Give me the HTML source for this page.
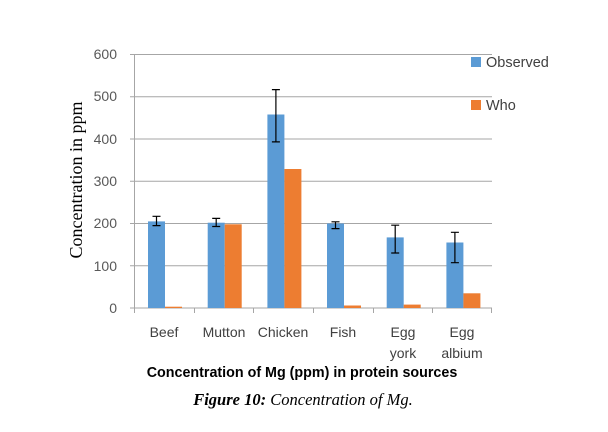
<!DOCTYPE html>
<html><head><style>body{margin:0;background:#fff}svg{display:block}</style></head>
<body>
<svg width="608" height="432" xmlns="http://www.w3.org/2000/svg">
<g stroke="#a6a6a6" stroke-width="1">
<line x1="130" y1="54.5" x2="492" y2="54.5"/>
<line x1="130" y1="96.8" x2="492" y2="96.8"/>
<line x1="130" y1="139" x2="492" y2="139"/>
<line x1="130" y1="181.3" x2="492" y2="181.3"/>
<line x1="130" y1="223.5" x2="492" y2="223.5"/>
<line x1="130" y1="265.8" x2="492" y2="265.8"/>
<line x1="130" y1="308" x2="492" y2="308"/>
<line x1="134.5" y1="54" x2="134.5" y2="308"/>
<line x1="134.5" y1="308" x2="134.5" y2="313"/>
<line x1="194.5" y1="308" x2="194.5" y2="313"/>
<line x1="253.5" y1="308" x2="253.5" y2="313"/>
<line x1="313.5" y1="308" x2="313.5" y2="313"/>
<line x1="373.5" y1="308" x2="373.5" y2="313"/>
<line x1="432.5" y1="308" x2="432.5" y2="313"/>
<line x1="491.5" y1="308" x2="491.5" y2="313"/>
</g>
<g font-family="Liberation Sans, sans-serif" font-size="14" fill="#595959" text-anchor="end">
<text x="117" y="59">600</text><text x="117" y="101">500</text><text x="117" y="144">400</text>
<text x="117" y="186">300</text><text x="117" y="228">200</text><text x="117" y="271">100</text><text x="117" y="313">0</text>
</g>
<text transform="translate(82,180) rotate(-90)" text-anchor="middle" font-family="Liberation Serif, serif" font-size="18" fill="#000">Concentration in ppm</text>
<g fill="#5b9bd5">
<rect x="148" y="221.4" width="17" height="86.6"/>
<rect x="207.7" y="222.7" width="17" height="85.3"/>
<rect x="267.4" y="114.5" width="17" height="193.5"/>
<rect x="327" y="223.5" width="17" height="84.5"/>
<rect x="386.7" y="237.4" width="17" height="70.6"/>
<rect x="446.4" y="242.5" width="17" height="65.5"/>
</g>
<g fill="#ed7d31">
<rect x="165" y="306.7" width="17" height="1.3"/>
<rect x="224.7" y="224.3" width="17" height="83.7"/>
<rect x="284.4" y="169" width="17" height="139"/>
<rect x="344" y="305.5" width="17" height="2.5"/>
<rect x="403.7" y="304.6" width="17" height="3.4"/>
<rect x="463.4" y="293.3" width="17" height="14.7"/>
</g>
<g stroke="#000" stroke-width="1.2" fill="none">
<path d="M156.5 225.6V216.3M152.5 225.6h8M152.5 216.3h8"/>
<path d="M216.2 226.5V218.4M212.2 226.5h8M212.2 218.4h8"/>
<path d="M275.9 141.9V89.6M271.9 141.9h8M271.9 89.6h8"/>
<path d="M335.5 228.6V221.8M331.5 228.6h8M331.5 221.8h8"/>
<path d="M395.2 253V225.2M391.2 253h8M391.2 225.2h8"/>
<path d="M454.9 262.7V232.3M450.9 262.7h8M450.9 232.3h8"/>
</g>
<g font-family="Liberation Sans, sans-serif" font-size="14" fill="#404040" text-anchor="middle">
<text x="164" y="337">Beef</text><text x="224" y="337">Mutton</text><text x="283" y="337">Chicken</text>
<text x="343" y="337">Fish</text><text x="403" y="337">Egg</text><text x="462" y="337">Egg</text>
<text x="403" y="358">york</text><text x="462" y="358">albium</text>
</g>
<rect x="471" y="57" width="10" height="10" fill="#5b9bd5"/>
<text x="486" y="67" font-family="Liberation Sans, sans-serif" font-size="14.5" fill="#404040">Observed</text>
<rect x="471" y="100" width="10" height="10" fill="#ed7d31"/>
<text x="486" y="110" font-family="Liberation Sans, sans-serif" font-size="14.5" fill="#404040">Who</text>
<text x="302" y="377" text-anchor="middle" font-family="Liberation Sans, sans-serif" font-weight="bold" font-size="14.3" fill="#000">Concentration of Mg (ppm) in protein sources</text>
<text x="303" y="405" text-anchor="middle" font-family="Liberation Serif, serif" font-style="italic" font-size="16.5" fill="#000"><tspan font-weight="bold">Figure 10:</tspan> Concentration of Mg.</text>
</svg>
</body></html>
